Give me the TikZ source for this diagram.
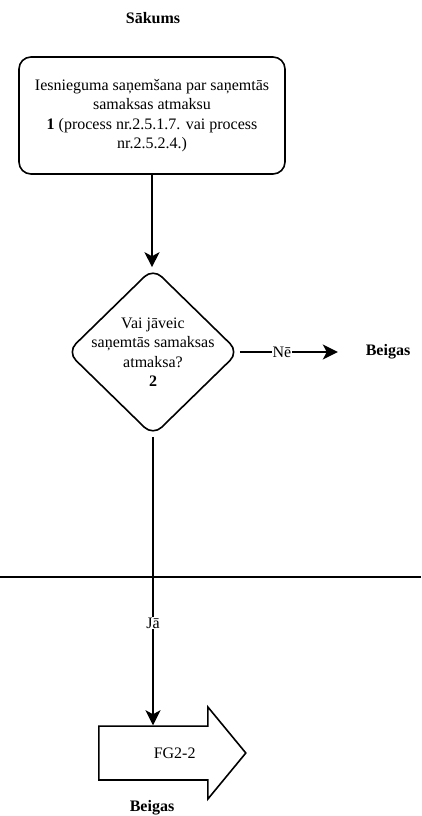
\documentclass[tikz,border=0pt]{standalone}
\usepackage{fontspec}
\setmainfont{Liberation Serif}
\usetikzlibrary{shapes.geometric,shapes.arrows,arrows.meta}
\tikzset{
  flow/.style={line width=1.6pt, -{Stealth[length=15pt,width=15pt,inset=4pt]}},
  stepbox/.style={draw, line width=1.6pt, rounded corners=12pt, minimum width=266pt, minimum height=117pt, align=center, inner sep=2pt},
  decision/.style={draw, diamond, line width=1.6pt, rounded corners=12pt, minimum width=172pt, minimum height=168pt, inner sep=0pt},
  jump/.style={draw, single arrow, line width=1.6pt, minimum height=147pt, minimum width=92pt, single arrow head extend=18.5pt, single arrow tip angle=101, single arrow head indent=0pt, inner xsep=0pt, inner ysep=20pt},
  lbl/.style={fill=white, inner sep=1pt},
  term/.style={font=\bfseries}
}
\newcommand{\flattext}[1]{\makebox[0pt]{\parbox{150pt}{\centering #1}}}
\begin{document}
\fontsize{16}{19.5}\selectfont
\begin{tikzpicture}
\useasboundingbox (0pt,0pt) rectangle (421pt,-816pt);
\node[term] (start) at (153pt,-18pt) {Sākums};
\node[stepbox] (recv) at (152pt,-115.5pt) {Iesnieguma saņemšana par saņemtās\\samaksas atmaksu\\\textbf{1} (process nr.2.5.1.7. vai process\\nr.2.5.2.4.)};
\node[decision] (check) at (153pt,-352pt) {\flattext{Vai jāveic\\saņemtās samaksas\\atmaksa?\\\textbf{2}}};
\node[term, minimum width=100pt] (endno) at (388pt,-352pt) {Beigas};
\node[jump, anchor=tail] (fg) at (98pt,-753pt) {\hspace{27pt}FG2-2};
\node[term] (endyes) at (152pt,-808pt) {Beigas};
\draw[flow] (recv) -- (recv |- check.north);
\draw[flow] (check.east) -- node[lbl, pos=0.43] {Nē} (endno.west);
\draw[line width=1.6pt] (0pt,-577pt) -- (421pt,-577pt);
\draw[flow] (check.south) -- node[lbl, pos=0.645] {Jā} (check.south |- fg.before head);
\end{tikzpicture}
\end{document}
